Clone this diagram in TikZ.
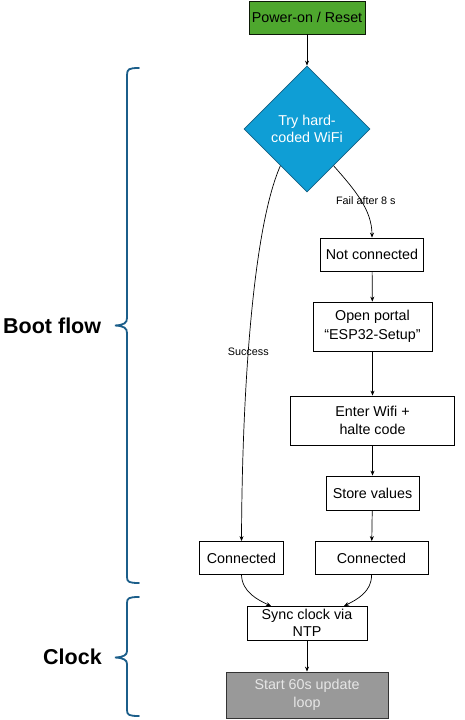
\documentclass[tikz,border=0pt]{standalone}
\usepackage{fontspec}
\setmainfont{Liberation Sans}
\usetikzlibrary{shapes.geometric,arrows.meta,calc}
\definecolor{pgreen}{HTML}{4EA72E}
\definecolor{pblue}{HTML}{0F9ED5}
\definecolor{pbluedark}{HTML}{156082}
\definecolor{pgray}{HTML}{999999}
\definecolor{pgraytext}{HTML}{E6E6E6}
\definecolor{pbrace}{HTML}{1B5E8A}
\tikzset{
  box/.style={draw=black, line width=0.8pt, fill=white, inner sep=0pt, align=center,
    font=\fontsize{14.3}{18.5}\selectfont},
  lbl/.style={font=\fontsize{10.8}{12}\selectfont, inner sep=0pt},
  arr/.style={draw=black, line width=0.7pt, -{Stealth[length=5pt,width=4pt]}},
  bracestyle/.style={draw=pbrace, line width=1.8pt, line cap=round},
  side/.style={font=\fontsize{21.5}{24}\selectfont\bfseries, inner sep=0pt}
}
\begin{document}
\begin{tikzpicture}[x=1pt,y=-1pt]
\useasboundingbox (0,0) rectangle (465,720);
% nodes
\node[box, fill=pgreen, draw=black!85!pgreen, minimum width=116pt, minimum height=33pt] (pw) at (307,17.5) {Power-on / Reset};
\node[diamond, draw=pbluedark, line width=0.8pt, fill=pblue, minimum width=126pt, minimum height=126pt, inner sep=0pt, align=center, text=white, font=\fontsize{14.3}{17.5}\selectfont] (dia) at (307,129) {Try hard-\\coded WiFi};
\node[box, minimum width=103pt, minimum height=33pt] (nc) at (372,254.5) {Not connected};
\node[box, minimum width=119pt, minimum height=49pt] (op) at (372.5,326.5) {Open portal\\“ESP32-Setup”};
\node[box, minimum width=164pt, minimum height=49pt] (ew) at (372.5,420.5) {Enter Wifi +\\halte code};
\node[box, minimum width=93pt, minimum height=34pt] (sv) at (372.5,493) {Store values};
\node[box, minimum width=84pt, minimum height=33pt] (c1) at (241.5,558) {Connected};
\node[box, minimum width=113pt, minimum height=33pt] (c2) at (371.5,558) {Connected};
\node[box, minimum width=120pt, minimum height=34pt, font=\fontsize{14.3}{16.5}\selectfont] (sy) at (307,623) {Sync clock via\\NTP};
\node[box, fill=pgray, draw=black!80, minimum width=162pt, minimum height=46pt, text=pgraytext] (st) at (307,695) {Start 60s update\\loop};
% connectors
\draw[arr] (pw) -- (dia);
\coordinate (dr) at ($(dia.south)!0.42!(dia.east)$);
\coordinate (dl) at ($(dia.south)!0.42!(dia.west)$);
\draw[arr] (dr) .. controls (355,190) and (372,210) .. (nc.north) node[lbl, pos=0.5, anchor=center, xshift=5pt] (lf) {Fail after 8 s};
\draw[arr] (dl) .. controls (252,230) and (242,400) .. (c1.north) node[lbl, pos=0.565, anchor=center] (ls) {Success};
\draw[arr] (nc) -- (op);
\draw[arr] (op) -- (ew);
\draw[arr] (ew) -- (sv);
\draw[arr] (sv) -- (c2);
\coordinate (sl) at (271,606);
\coordinate (sr) at (344,606);
\draw[arr] (c1.south) .. controls (242,592) and (258,600) .. (sl);
\draw[arr] (c2.south) .. controls (372,592) and (356,600) .. (sr);
\draw[arr] (sy) -- (st);
% braces
\draw[bracestyle] (139,68) .. controls (129,68) and (127,69) .. (127,75) -- (127,318)
  .. controls (127,323) and (124,325) .. (115,325.5)
  .. controls (124,326) and (127,328) .. (127,333) -- (127,577)
  .. controls (127,582) and (129,583) .. (139,583);
\draw[bracestyle] (139,597) .. controls (129,597) and (127,598) .. (127,603) -- (127,651)
  .. controls (127,655) and (124,657) .. (115,657.5)
  .. controls (124,658) and (127,660) .. (127,664) -- (127,710)
  .. controls (127,715) and (129,716) .. (139,716);
\node[side, anchor=west] (bf) at (3,325.5) {Boot flow};
\node[side, anchor=west] (ck) at (43,657) {Clock};
\end{tikzpicture}
\end{document}
